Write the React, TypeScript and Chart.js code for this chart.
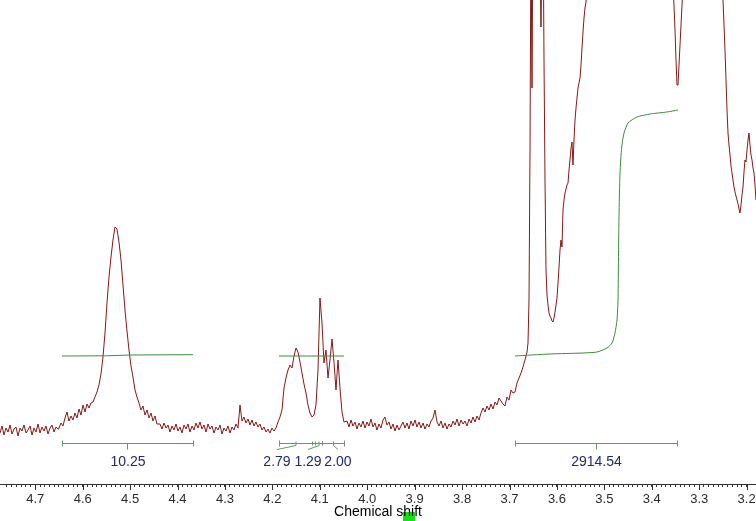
import React, { useEffect, useRef } from "react";
import { Chart, registerables } from "chart.js";

Chart.register(...registerables);

// ---- Axis ranges (chemical shift in ppm, NMR axis reversed) ----
const shiftMin = 3.1802;
const shiftMax = 4.7744;
const intensityMin = -54;
const intensityMax = 430;
const axisTitle = "Chemical shift";

// ---- Spectrum: sampled segments (start ppm, step ppm, intensities) ----
const seg1Start = 4.7744;
const seg1Step = 0.0042177;
const seg1 = [-3, 4, -5, 2, -2, 5, -4, 1, 3, -6, 2, -1, 5, -3, 0, 4, -5, 2, -2, 6, -3, 3, -1, 4, -4, 2, 5, -2, 3, 1];

const seg2Start = 4.65002;
const seg2Step = 0.0042177;
const seg2 = [
  2, 7, 4, 12, 18, 9, 14, 10, 17, 12, 21, 15, 25, 18, 26, 22, 27, 28, 33, 38,
  45, 56, 73, 97, 127, 153, 173, 190, 203, 201, 188, 170, 145, 120, 99, 80, 64, 53, 40, 33,
  27, 20, 24, 15, 20, 12, 17, 9, 14, 6,
];

const seg3Start = 4.43703;
const seg3Step = 0.0042177;
const seg3 = [
  6, 1, 7, 2, 5, -2, 4, 0, 6, -1, 3, -3, 5, 1, 6, -2, 4, 0, 7, 2,
  8, 1, 5, -2, 6, 1, 4, -3, 3, 0, 5, -4, 2, -1, 4, -3, 3, 0, 6, 2,
  25, 9, 13, 7, 11, 5, 10, 4, 8, 3, 6, 0, 3, -2, 1, -3, 2, -1,
];

const seg4Start = 4.19241;
const seg4Step = 0.0042177;
const seg4 = [
  2, 8, 13, 20, 42, 52, 60, 65, 62, 74, 82, 78, 68, 57, 46, 37, 25, 17, 13, 15,
  25, 60, 132, 107, 67, 80, 52, 70, 91, 68, 40, 70, 42, 18, 8,
];

const seg5Start = 4.04268;
const seg5Step = 0.0042177;
const seg5 = [
  9, 3, 10, 4, 8, 1, 7, 3, 9, 2, 8, 4, 11, 3, 7, 0, 6, 2, 10, 13,
  5, 8, 1, 6, -1, 5, 0, 4, 8, 2, 7, 1, 9, 4, 10, 3, 8, 2, 7, 1,
  6, 3, 9, 12, 20, 8, 4, 9, 2, 7, 1, 6, 3, 9, 5, 11, 4, 10, 6, 9,
  4, 11, 7, 13, 8, 14, 10, 17, 22, 18, 24, 20, 26, 21, 28, 25, 32, 29, 26, 24,
  33, 30, 40, 37, 38, 47, 52, 57, 63, 70, 78,
];

const seg6Start = 3.66099;
const seg6Step = 0.0021088;
const seg6 = [
  87, 130, 280, 500, 342, 520, 600, 650, 640, 600, 560, 520, 470, 403, 480, 520, 370, 250, 160, 135,
  125, 117, 114, 112, 109, 108, 112, 118, 125, 132, 147, 163, 180, 190, 183, 220, 230, 237, 241, 245,
  247, 260, 270, 282, 288, 265, 290, 310, 322, 332, 342, 347, 352, 365, 382, 398, 412, 422, 428, 440,
  470, 500, 530,
];

const seg7Start = 3.52813;
const seg7Step = 0.014762;
const seg7 = [560, 620, 700, 760, 800, 780, 720, 650, 600, 560, 520, 490];

const seg8Start = 3.36364;
const seg8Step = 0.0021088;
const seg8 = [520, 500, 480, 460, 440, 425, 400, 370, 345, 345, 365, 385, 405, 425, 445, 470];

const seg9Start = 3.32357;
const seg9Step = 0.0084353;
const seg9 = [520, 580, 640, 700, 720, 690, 640, 580];

const seg10Start = 3.25609;
const seg10Step = 0.0021088;
const seg10 = [
  520, 480, 450, 430, 405, 380, 350, 320, 297, 285, 275, 264, 257, 250, 243, 238, 234, 230, 226, 221,
  217, 225, 235, 243, 258, 270, 268, 280, 290, 297, 285, 275, 270, 262, 257, 245, 230,
];

// ---- Integral curves ----
const integral1Ppm = [4.6437, 4.55, 4.5, 4.3674];
const integral1Val = [74, 74.2, 75, 75.3];
const integral2Ppm = [4.1861, 4.049];
const integral2Val = [74, 74];
const integral3Ppm = [
  3.6884, 3.6146, 3.545, 3.5155, 3.4944, 3.4838, 3.4775, 3.4733, 3.4712, 3.4704,
  3.4691, 3.467, 3.4634, 3.4585, 3.4501, 3.4311, 3.4037, 3.3679, 3.3447,
];
const integral3Val = [74, 76, 77, 78, 82, 87, 97, 110, 130, 163, 213, 257, 283, 297, 307, 313, 316, 318, 320];

// ---- Integration brackets and values ----
const bracketFrom = [4.6437, 3.6884];
const bracketTo = [4.3674, 3.3468];
const bracketLabels = ["10.25", "2914.54"];

const multipletFrom = 4.1861;
const multipletTo = 4.049;
const subFrom = [4.1861, 4.1102, 4.0954];
const subTo = [4.1165, 4.0954, 4.049];
const subLabels = ["2.79", "1.29", "2.00"];
const subLabelAt = [4.1903, 4.1249, 4.0617];

const bracketLevel = -13;
const labelLevel = -32;

// ---- Styles ----
const FONT = "'Liberation Sans', Arial, sans-serif";
const spectrumColor = "#861818";
const integralColor = "#3f8c3f";
const bracketColor = "#5f9c5f";
const integralTextColor = "#1f2a70";
const axisColor = "#333333";

function segment(start: number, step: number, values: number[]) {
  return values.map((v, i) => ({ x: start - i * step, y: v }));
}

function zipXY(xs: number[], ys: number[]) {
  return xs.map((x, i) => ({ x, y: ys[i] }));
}

const spectrumPoints = [
  ...segment(seg1Start, seg1Step, seg1),
  ...segment(seg2Start, seg2Step, seg2),
  ...segment(seg3Start, seg3Step, seg3),
  ...segment(seg4Start, seg4Step, seg4),
  ...segment(seg5Start, seg5Step, seg5),
  ...segment(seg6Start, seg6Step, seg6),
  ...segment(seg7Start, seg7Step, seg7),
  ...segment(seg8Start, seg8Step, seg8),
  ...segment(seg9Start, seg9Step, seg9),
  ...segment(seg10Start, seg10Step, seg10),
];

const crisp = (v: number) => Math.round(v) + 0.5;

const integralPlugin = {
  id: "integralBrackets",
  beforeDraw(chart: any) {
    // selection highlight behind "hi" of the axis title
    const ctx = chart.ctx;
    ctx.save();
    ctx.font = `14px ${FONT}`;
    const w = ctx.measureText(axisTitle).width;
    const cx = (chart.chartArea.left + chart.chartArea.right) / 2;
    const x0 = cx - w / 2 + ctx.measureText("Chemical s").width;
    const hw = ctx.measureText("hi").width;
    ctx.fillStyle = "#18e018";
    ctx.fillRect(Math.round(x0), chart.height - 9, Math.round(hw) + 1, 9);
    ctx.restore();
  },
  afterDatasetsDraw(chart: any) {
    const xs = chart.scales.x;
    const ys = chart.scales.y;
    const ctx = chart.ctx;
    ctx.save();
    ctx.strokeStyle = bracketColor;
    ctx.lineWidth = 1;
    const yb = crisp(ys.getPixelForValue(bracketLevel));
    const yl = ys.getPixelForValue(labelLevel);
    ctx.font = `14px ${FONT}`;
    ctx.textAlign = "center";
    ctx.textBaseline = "middle";

    bracketFrom.forEach((from, i) => {
      const a = crisp(xs.getPixelForValue(from));
      const b = crisp(xs.getPixelForValue(bracketTo[i]));
      const c = crisp(xs.getPixelForValue((from + bracketTo[i]) / 2));
      ctx.beginPath();
      ctx.moveTo(a, yb);
      ctx.lineTo(b, yb);
      ctx.moveTo(a, yb - 3);
      ctx.lineTo(a, yb + 3);
      ctx.moveTo(b, yb - 3);
      ctx.lineTo(b, yb + 3);
      ctx.moveTo(c, yb);
      ctx.lineTo(c, yb + 6);
      ctx.stroke();
      ctx.fillStyle = integralTextColor;
      ctx.fillText(bracketLabels[i], (a + b) / 2, yl);
    });

    // multiplet bracket with sub-integrals
    const ma = crisp(xs.getPixelForValue(multipletFrom));
    const mb = crisp(xs.getPixelForValue(multipletTo));
    ctx.beginPath();
    ctx.moveTo(ma, yb);
    ctx.lineTo(mb, yb);
    ctx.moveTo(ma, yb - 3);
    ctx.lineTo(ma, yb + 3);
    ctx.moveTo(mb, yb - 3);
    ctx.lineTo(mb, yb + 3);
    subFrom.forEach((from, i) => {
      const a = crisp(xs.getPixelForValue(from));
      const b = crisp(xs.getPixelForValue(subTo[i]));
      if (i > 0) {
        ctx.moveTo(a, yb - 2);
        ctx.lineTo(a, yb + 2);
      }
      if (i < subFrom.length - 1) {
        ctx.moveTo(b, yb - 2);
        ctx.lineTo(b, yb + 2);
      }
      const mid = (a + b) / 2;
      const lx = xs.getPixelForValue(subLabelAt[i]);
      ctx.moveTo(mid, yb - 2);
      ctx.lineTo(mid, yb + 2);
      ctx.lineTo(lx, yb + 6);
    });
    ctx.stroke();
    ctx.fillStyle = integralTextColor;
    subLabels.forEach((t, i) => {
      ctx.fillText(t, xs.getPixelForValue(subLabelAt[i]), yl);
    });
    ctx.restore();
  },
  afterDraw(chart: any) {
    // longer marks for labelled (major) ticks
    const xs = chart.scales.x;
    const ctx = chart.ctx;
    ctx.save();
    ctx.strokeStyle = axisColor;
    ctx.lineWidth = 1;
    ctx.beginPath();
    xs.ticks.forEach((t: any) => {
      const r = Math.round(t.value * 100);
      if (r % 10 === 0) {
        const px = crisp(xs.getPixelForValue(t.value));
        ctx.moveTo(px, xs.top);
        ctx.lineTo(px, xs.top + 6);
      }
    });
    ctx.stroke();
    ctx.restore();
  },
};

export default function App() {
  const canvasRef = useRef<HTMLCanvasElement | null>(null);

  useEffect(() => {
    if (!canvasRef.current) return;
    const chart = new Chart(canvasRef.current, {
      type: "line",
      data: {
        datasets: [
          {
            label: "Integral 1",
            data: zipXY(integral1Ppm, integral1Val),
            borderColor: integralColor,
            borderWidth: 1,
            pointRadius: 0,
            tension: 0,
          },
          {
            label: "Integral 2",
            data: zipXY(integral2Ppm, integral2Val),
            borderColor: integralColor,
            borderWidth: 1,
            pointRadius: 0,
            tension: 0,
          },
          {
            label: "Integral 3",
            data: zipXY(integral3Ppm, integral3Val),
            borderColor: integralColor,
            borderWidth: 1,
            pointRadius: 0,
            tension: 0.2,
          },
          {
            label: "Spectrum",
            data: spectrumPoints,
            borderColor: spectrumColor,
            borderWidth: 1,
            pointRadius: 0,
            tension: 0,
          },
        ],
      },
      options: {
        animation: false,
        responsive: true,
        maintainAspectRatio: false,
        parsing: false as any,
        normalized: true,
        layout: { padding: 0, autoPadding: false },
        plugins: {
          legend: { display: false },
          tooltip: { enabled: false },
          title: { display: false },
        },
        scales: {
          x: {
            type: "linear",
            reverse: true,
            min: shiftMin,
            max: shiftMax,
            afterBuildTicks: (scale: any) => {
              scale.ticks = scale.ticks.filter(
                (t: any) => Math.abs(t.value * 100 - Math.round(t.value * 100)) < 1e-4
              );
            },
            afterFit: (scale: any) => {
              scale.height = 37;
              scale.paddingLeft = 0;
              scale.paddingRight = 0;
            },
            ticks: {
              stepSize: 0.01,
              autoSkip: false,
              maxRotation: 0,
              minRotation: 0,
              padding: 5,
              color: "#2b2b2b",
              font: { family: FONT, size: 13 },
              callback: (value: any) => {
                const r = Math.round(Number(value) * 100);
                return r % 10 === 0 ? (r / 100).toFixed(1) : "";
              },
            },
            grid: {
              display: true,
              drawOnChartArea: false,
              drawTicks: true,
              tickLength: 3,
              color: axisColor,
            },
            border: { display: true, color: axisColor, width: 1 },
            title: {
              display: true,
              text: axisTitle,
              color: "#000000",
              font: { family: FONT, size: 14 },
              padding: { top: 0, bottom: 0 },
            },
          },
          y: {
            type: "linear",
            display: false,
            min: intensityMin,
            max: intensityMax,
          },
        },
      },
      plugins: [integralPlugin],
    });
    return () => chart.destroy();
  }, []);

  return (
    <div style={{ position: "absolute", left: 0, top: 0, width: 756, height: 521, background: "#ffffff" }}>
      <canvas ref={canvasRef} />
    </div>
  );
}
